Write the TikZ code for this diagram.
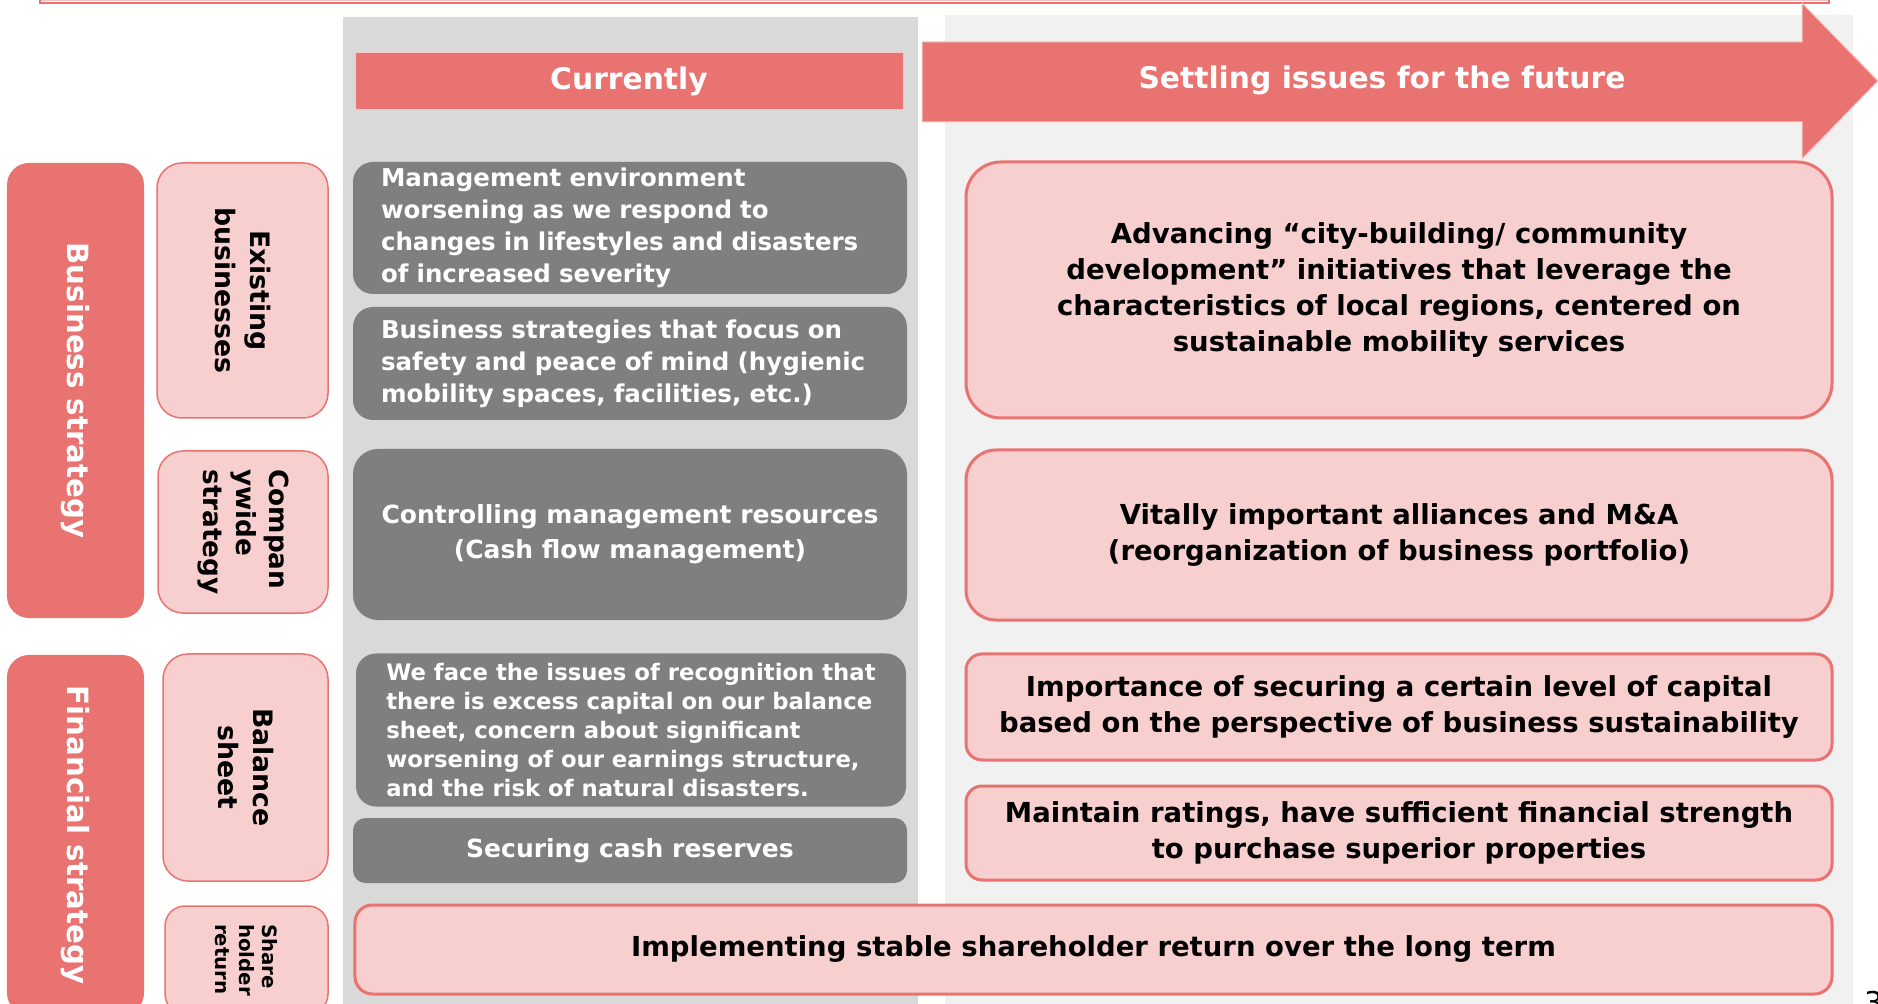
\documentclass[tikz,border=0pt]{standalone}
\usepackage{fontspec}
\setmainfont{DejaVu Sans}
\definecolor{cRed}{HTML}{E87371}
\definecolor{cPink}{HTML}{F7CFCF}
\definecolor{cDark}{HTML}{7F7F7F}
\definecolor{cCol}{HTML}{D9D9D9}
\definecolor{cColLight}{HTML}{F1F1F1}
\tikzset{
  redtab/.style={fill=cRed, draw=none, rounded corners=8.8pt, text=white, rotate=-90,
    font=\bfseries\fontsize{11.7}{14}\selectfont},
  pinktab/.style={fill=cPink, draw=cRed, line width=0.6pt, rounded corners=10pt,
    text=black, rotate=-90, font=\bfseries\fontsize{10.7}{14}\selectfont},
  darkbox/.style={fill=cDark, draw=none, rounded corners=8pt, text=white,
    minimum width=221.6pt, font=\bfseries\fontsize{9.8}{12.8}\selectfont},
  issue/.style={fill=cPink, draw=cRed, line width=1.2pt, text=black, align=center,
    minimum width=346.4pt, font=\bfseries\fontsize{11}{14.4}\selectfont},
  headtab/.style={text=white, font=\bfseries\fontsize{11.9}{14}\selectfont}
}
\begin{document}
\begin{tikzpicture}[x=0.4pt, y=-0.4pt, every node/.style={inner sep=0pt}]
\useasboundingbox (0,0) rectangle (1878,1004);

% frame edge along the top
\draw[cRed, line width=0.8pt] (40,-20) rectangle (1829,3);
\draw[cRed!45!white, line width=0.5pt] (42,-20) rectangle (1827,0.5);

% column backgrounds
\fill[cCol] (343,17) rectangle (918,1010);
\fill[cColLight] (945,15) rectangle (1853,1010);

% column headers
\node[headtab, fill=cRed, draw=cRed!40!white, line width=0.4pt,
  minimum width=219.2pt, minimum height=22.8pt] (cur) at (629,81.5) {Currently};
\fill[cRed, draw=cRed!40!white, line width=0.4pt]
  (922,42) -- (1802,42) -- (1802,3) -- (1878,81) -- (1802,159) -- (1802,122) -- (922,122) -- cycle;
\node[headtab] (fut) at (1382,80) {Settling issues for the future};

% row labels
\node[redtab, minimum width=182pt, minimum height=54.8pt] (biz) at (75.5,390.5) {Business strategy};
\node[redtab, minimum width=144pt, minimum height=54.8pt] (fin) at (75.5,835) {Financial strategy};

\node[pinktab, align=center, minimum width=102pt, minimum height=68.4pt] (exist) at (242.5,290.5)
  {Existing\\businesses};
\node[pinktab, align=left, minimum width=64.8pt, minimum height=68pt,
  font=\bfseries\fontsize{10.5}{13.2}\selectfont] (corp) at (243,532) {Compan\\ywide\\strategy};
\node[pinktab, align=center, minimum width=90.8pt, minimum height=66pt] (bal) at (245.5,767.5)
  {Balance\\sheet};
\node[pinktab, align=left, rounded corners=8pt, minimum width=43.2pt, minimum height=65.2pt,
  font=\bfseries\fontsize{7.9}{9.3}\selectfont] (share) at (246.5,960) {Share\\holder\\return};

% current situation
\node[darkbox, minimum height=52.8pt, text width=199.2pt, align=left] (g1) at (630,228)
  {Management environment\\worsening as we respond to\\changes in lifestyles and disasters\\of increased severity};
\node[darkbox, minimum height=45.2pt, text width=199.2pt, align=left] (g2) at (630,363.5)
  {Business strategies that focus on\\safety and peace of mind (hygienic\\mobility spaces, facilities, etc.)};
\node[darkbox, minimum height=68.4pt, align=center, rounded corners=10pt,
  font=\bfseries\fontsize{10}{14}\selectfont] (g3) at (630,534.5)
  {Controlling management resources\\(Cash flow management)};
\node[darkbox, minimum width=220pt, minimum height=61.2pt, align=left,
  font=\bfseries\fontsize{9.1}{11.6}\selectfont] (g4) at (631,730)
  {We face the issues of recognition that\\there is excess capital on our balance\\sheet, concern about significant\\worsening of our earnings structure,\\and the risk of natural disasters.};
\node[darkbox, minimum height=26pt, rounded corners=5pt,
  font=\bfseries\fontsize{10}{12}\selectfont] (g5) at (630,850.5) {Securing cash reserves};

% issues to settle
\node[issue, minimum height=102.4pt, rounded corners=14pt] (r1) at (1399,290)
  {Advancing “city-building/ community\\development” initiatives that leverage the\\characteristics of local regions, centered on\\sustainable mobility services};
\node[issue, minimum height=68pt, rounded corners=12pt] (r2) at (1399,535)
  {Vitally important alliances and M\&A\\(reorganization of business portfolio)};
\node[issue, minimum height=42.4pt, rounded corners=6.4pt] (r3) at (1399,707)
  {Importance of securing a certain level of capital\\based on the perspective of business sustainability};
\node[issue, minimum height=37.6pt, rounded corners=6.4pt] (r4) at (1399,833)
  {Maintain ratings, have sufficient financial strength\\to purchase superior properties};
\node[issue, minimum width=590.8pt, minimum height=35.6pt, rounded corners=7pt] (ret) at (1093.5,949.5)
  {Implementing stable shareholder return over the long term};

% page number
\node[anchor=north west, font=\fontsize{12}{14}\selectfont] (pg) at (1864,991) {3};
\end{tikzpicture}
\end{document}
